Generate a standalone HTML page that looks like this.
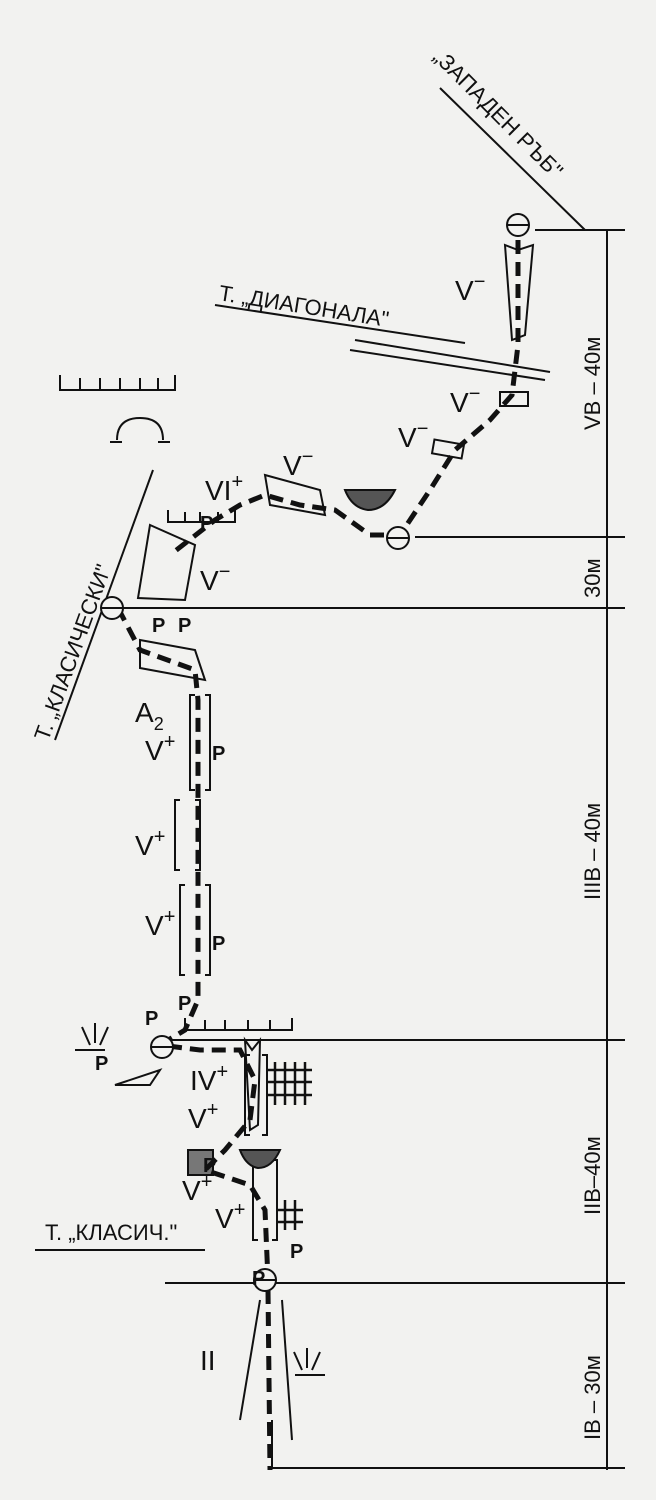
<!DOCTYPE html>
<html><head><meta charset="utf-8"><style>
html,body{margin:0;padding:0;background:#f2f2f0;}
svg{display:block}
text{font-family:"Liberation Sans",DejaVu Sans,sans-serif;fill:#111;}
</style></head><body>
<svg width="656" height="1500" viewBox="0 0 656 1500" xmlns="http://www.w3.org/2000/svg">
<rect width="656" height="1500" fill="#f2f2f0"/>
<g stroke="#111" fill="none" stroke-width="2">
<!-- dimension line -->
<line x1="607" y1="230" x2="607" y2="1470"/>
<line x1="535" y1="230" x2="625" y2="230"/>
<line x1="415" y1="537" x2="625" y2="537"/>
<line x1="115" y1="608" x2="625" y2="608"/>
<line x1="170" y1="1040" x2="625" y2="1040"/>
<line x1="165" y1="1283" x2="625" y2="1283"/>
<line x1="272" y1="1468" x2="625" y2="1468"/>
<line x1="272" y1="1420" x2="272" y2="1468"/>
<!-- west ridge -->
<line x1="440" y1="88" x2="585" y2="230"/>
<!-- diagonal -->
<line x1="215" y1="305" x2="465" y2="343"/>
<line x1="355" y1="340" x2="550" y2="372"/>
<line x1="350" y1="350" x2="545" y2="380"/>
<!-- klasicheski -->
<line x1="153" y1="470" x2="55" y2="740"/>
<!-- klasich -->
<line x1="35" y1="1250" x2="205" y2="1250"/>
<!-- overhangs/ledges -->
<polyline points="60,375 60,390 175,390 175,375"/>
<line x1="80" y1="378" x2="80" y2="390"/><line x1="100" y1="378" x2="100" y2="390"/><line x1="120" y1="378" x2="120" y2="390"/><line x1="140" y1="378" x2="140" y2="390"/><line x1="158" y1="378" x2="158" y2="390"/>
<path d="M117,440 Q117,418 140,418 Q163,418 163,440" />
<line x1="110" y1="442" x2="122" y2="442"/><line x1="158" y1="442" x2="170" y2="442"/>
<polyline points="168,510 168,522 235,522 235,510"/>
<line x1="185" y1="512" x2="185" y2="522"/><line x1="200" y1="512" x2="200" y2="522"/><line x1="218" y1="512" x2="218" y2="522"/>
<polyline points="185,1018 185,1030 292,1030 292,1018"/>
<line x1="205" y1="1020" x2="205" y2="1030"/><line x1="225" y1="1020" x2="225" y2="1030"/><line x1="248" y1="1020" x2="248" y2="1030"/><line x1="270" y1="1020" x2="270" y2="1030"/>
<!-- blocks -->
<polygon points="265,475 320,490 325,515 270,505"/>
<polygon points="140,640 195,650 205,680 140,668"/>
<polygon points="150,525 195,545 185,600 138,598"/>
<rect x="500" y="392" width="28" height="14"/>
<rect x="433" y="442" width="30" height="14" transform="rotate(10 448 449)"/>
<polygon points="120,1065 155,1072 120,1090" opacity="0"/>
<polygon points="115,1085 160,1070 150,1085"/>
<!-- grids -->
<g stroke-width="2.5">
<line x1="275" y1="1062" x2="275" y2="1105"/><line x1="285" y1="1062" x2="285" y2="1105"/><line x1="295" y1="1062" x2="295" y2="1105"/><line x1="305" y1="1062" x2="305" y2="1105"/>
<line x1="268" y1="1070" x2="312" y2="1070"/><line x1="268" y1="1082" x2="312" y2="1082"/><line x1="268" y1="1095" x2="312" y2="1095"/>
<line x1="285" y1="1200" x2="285" y2="1230"/><line x1="295" y1="1200" x2="295" y2="1230"/>
<line x1="278" y1="1210" x2="303" y2="1210"/><line x1="278" y1="1222" x2="303" y2="1222"/>
</g>
<!-- brackets -->
<path d="M195,695 h-5 v95 h5 M205,695 h5 v95 h-5"/>
<path d="M180,800 h-5 v70 h5 M195,800 h5 v70 h-5"/>
<path d="M185,885 h-5 v90 h5 M205,885 h5 v90 h-5"/>
<path d="M250,1055 h-5 v80 h5 M262,1055 h5 v80 h-5"/>
<path d="M258,1160 h-5 v80 h5 M272,1160 h5 v80 h-5"/>
<!-- dihedral top -->
<path d="M505,245 L518,250 L533,245 L525,335 L512,340 Z"/>
<path d="M245,1040 L252,1050 L260,1040 L258,1125 L250,1130 Z"/>
<!-- lower gully -->
<path d="M260,1300 L240,1420 M282,1300 L292,1440"/>
<!-- hatched half circles -->
<path d="M345,490 L395,490 Q385,510 368,510 Q352,508 345,490Z" fill="#555"/>
<path d="M240,1150 L280,1150 Q272,1168 258,1168 Q246,1166 240,1150Z" fill="#555"/>
<rect x="188" y="1150" width="25" height="25" fill="#777"/>
<!-- grass -->
<path d="M90,1045 l-8,-18 M95,1043 l0,-20 M100,1045 l8,-18 M75,1050 h30"/>
<path d="M302,1370 l-8,-18 M307,1368 l0,-20 M312,1370 l8,-18 M295,1375 h30"/>
</g>
<!-- route dashed -->
<g stroke="#111" fill="none" stroke-width="5" stroke-dasharray="14 8">
<path d="M518,240 L518,345 L512,395 L490,420 L455,450 L430,490 L400,535 L370,535 L335,510 L300,505 L265,495 L240,505 L215,520 L170,555"/>
<path d="M118,608 L140,650 L195,670 L198,700 L198,1000 L185,1030 L160,1045 L200,1050 L240,1050 L255,1080 L250,1120 L225,1150 L205,1170 L250,1185 L265,1210 L268,1280"/>
<path d="M268,1290 L270,1470"/>
</g>
<!-- belays -->
<g stroke="#111" stroke-width="2" fill="#f2f2f0">
<circle cx="518" cy="225" r="11"/><line x1="507" y1="225" x2="529" y2="225"/>
<circle cx="398" cy="538" r="11"/><line x1="387" y1="538" x2="409" y2="538"/>
<circle cx="112" cy="608" r="11"/><line x1="101" y1="608" x2="123" y2="608"/>
<circle cx="162" cy="1047" r="11"/><line x1="151" y1="1047" x2="173" y2="1047"/>
<circle cx="265" cy="1280" r="11"/><line x1="254" y1="1280" x2="276" y2="1280"/>
</g>
<!-- labels -->
<g font-size="28">
<text x="455" y="300">V<tspan dy="-12" font-size="20">−</tspan></text>
<text x="450" y="412">V<tspan dy="-12" font-size="20">−</tspan></text>
<text x="398" y="447">V<tspan dy="-12" font-size="20">−</tspan></text>
<text x="283" y="475">V<tspan dy="-12" font-size="20">−</tspan></text>
<text x="205" y="500">VI<tspan dy="-12" font-size="20">+</tspan></text>
<text x="200" y="590">V<tspan dy="-12" font-size="20">−</tspan></text>
<text x="135" y="722">A<tspan dy="8" font-size="18">2</tspan></text>
<text x="145" y="760">V<tspan dy="-12" font-size="20">+</tspan></text>
<text x="135" y="855">V<tspan dy="-12" font-size="20">+</tspan></text>
<text x="145" y="935">V<tspan dy="-12" font-size="20">+</tspan></text>
<text x="190" y="1090">IV<tspan dy="-12" font-size="20">+</tspan></text>
<text x="188" y="1128">V<tspan dy="-12" font-size="20">+</tspan></text>
<text x="182" y="1200">V<tspan dy="-12" font-size="20">+</tspan></text>
<text x="215" y="1228">V<tspan dy="-12" font-size="20">+</tspan></text>
<text x="200" y="1370">II</text>
</g>
<g font-size="20" font-weight="bold">
<text x="200" y="530">P</text><text x="152" y="632">P</text><text x="178" y="632">P</text>
<text x="212" y="760">P</text><text x="212" y="950">P</text>
<text x="178" y="1010">P</text><text x="145" y="1025">P</text><text x="95" y="1070">P</text>
<text x="203" y="1172">P</text><text x="290" y="1258">P</text><text x="252" y="1285">P</text>
</g>
<g font-size="22">
<text transform="translate(432,58) rotate(45)">„ЗАПАДЕН РЪБ"</text>
<text transform="translate(218,300) rotate(9)">Т. „ДИАГОНАЛА"</text>
<text transform="translate(48,742) rotate(-70)">Т. „КЛАСИЧЕСКИ"</text>
<text x="45" y="1240">Т. „КЛАСИЧ."</text>
<text transform="translate(600,430) rotate(-90)">VB – 40м</text>
<text transform="translate(600,598) rotate(-90)">30м</text>
<text transform="translate(600,900) rotate(-90)">IIIB – 40м</text>
<text transform="translate(600,1215) rotate(-90)">IIB–40м</text>
<text transform="translate(600,1440) rotate(-90)">IB – 30м</text>
</g>
</svg>
</body></html>
